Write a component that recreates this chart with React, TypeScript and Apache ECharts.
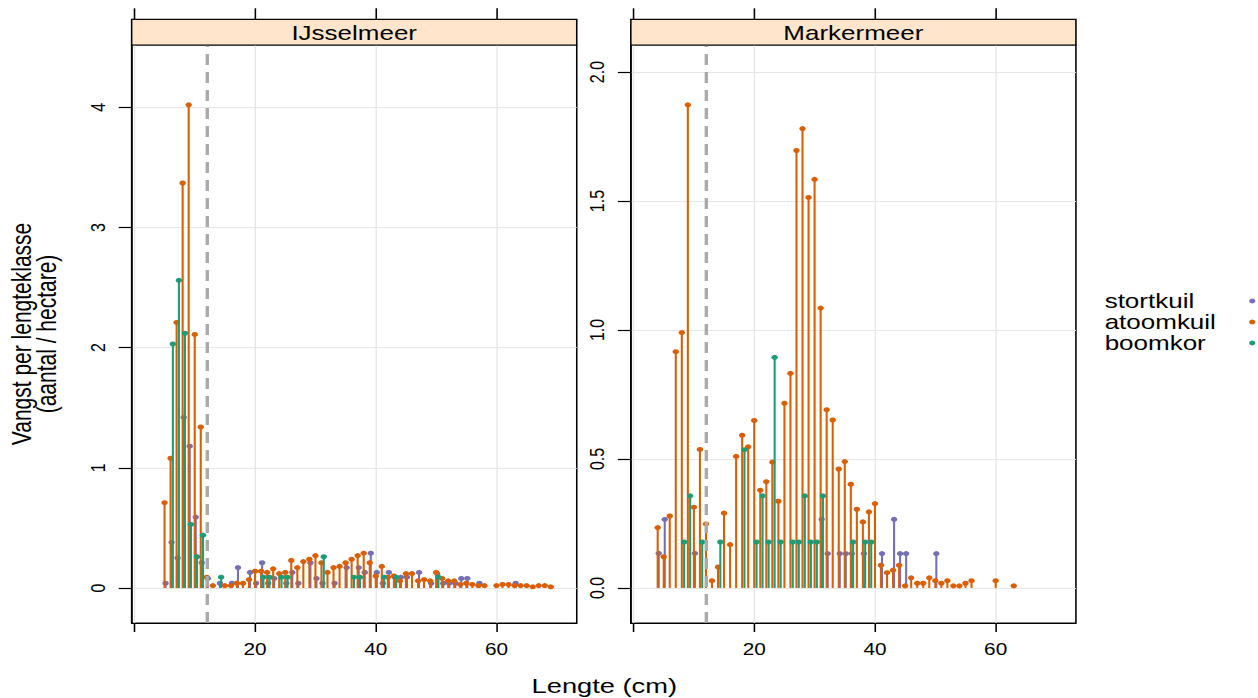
import React, { useEffect, useRef } from "react";
import * as echarts from "echarts";

// ---------- data ----------
const panels = ["IJsselmeer", "Markermeer"];
const seriesNames = ["stortkuil", "atoomkuil", "boomkor"];
const seriesColors = ["#7570B3", "#D95F02", "#1B9E77"];
const seriesOffsets = [0.17, 0, 0.38];

// IJsselmeer
const ijStortLen = [5, 6, 7, 8, 9, 10, 11, 12, 14, 16, 17, 19, 20, 21, 22, 23, 25, 26, 27, 29, 30, 31, 33, 35, 37, 38, 39, 40, 41, 42, 43, 44, 45, 47, 49, 50, 51, 52, 53, 54, 55, 57, 63];
const ijStortVal = [0.04, 0.38, 0.25, 1.42, 1.18, 0.59, 0.21, 0.08, 0.04, 0.04, 0.17, 0.13, 0.04, 0.21, 0.04, 0.08, 0.04, 0.13, 0.04, 0.21, 0.08, 0.04, 0.04, 0.17, 0.17, 0.13, 0.29, 0.13, 0.04, 0.13, 0.09, 0.09, 0.09, 0.13, 0.04, 0.12, 0.04, 0.04, 0.04, 0.08, 0.08, 0.04, 0.04];
const ijAtoomLen = [5, 6, 7, 8, 9, 10, 11, 12, 13, 15, 16, 17, 18, 19, 20, 21, 22, 23, 24, 25, 26, 27, 28, 29, 30, 31, 32, 33, 34, 35, 36, 37, 38, 39, 40, 41, 42, 43, 44, 45, 46, 47, 48, 49, 50, 51, 52, 53, 54, 55, 56, 57, 58, 60, 61, 62, 63, 64, 65, 66, 67, 68, 69];
const ijAtoomVal = [0.71, 1.08, 2.21, 3.37, 4.02, 2.11, 1.34, 0.09, 0.02, 0.02, 0.02, 0.04, 0.04, 0.07, 0.14, 0.14, 0.13, 0.16, 0.12, 0.13, 0.23, 0.17, 0.22, 0.24, 0.27, 0.21, 0.13, 0.17, 0.18, 0.21, 0.24, 0.27, 0.29, 0.21, 0.10, 0.18, 0.09, 0.10, 0.06, 0.12, 0.12, 0.06, 0.07, 0.06, 0.13, 0.08, 0.06, 0.06, 0.03, 0.04, 0.03, 0.02, 0.02, 0.02, 0.03, 0.03, 0.02, 0.02, 0.02, 0.01, 0.02, 0.02, 0.01];
const ijBoomLen = [6, 7, 8, 9, 10, 11, 14, 21, 22, 24, 25, 31, 36, 37, 41, 43, 50];
const ijBoomVal = [2.03, 2.56, 2.12, 0.53, 0.26, 0.44, 0.09, 0.09, 0.09, 0.09, 0.09, 0.26, 0.09, 0.09, 0.09, 0.09, 0.09];

// Markermeer
const mmStortLen = [4, 5, 10, 31, 32, 34, 35, 36, 38, 41, 43, 44, 45, 50];
const mmStortVal = [0.134, 0.266, 0.134, 0.266, 0.133, 0.133, 0.133, 0.133, 0.133, 0.133, 0.266, 0.133, 0.133, 0.133];
const mmAtoomLen = [4, 5, 6, 7, 8, 9, 10, 11, 12, 13, 14, 15, 16, 17, 18, 19, 20, 21, 22, 23, 24, 25, 26, 27, 28, 29, 30, 31, 32, 33, 34, 35, 36, 37, 38, 39, 40, 41, 42, 43, 44, 45, 46, 47, 48, 49, 50, 51, 52, 53, 54, 55, 56, 60, 63];
const mmAtoomVal = [0.234, 0.121, 0.279, 0.916, 0.99, 1.873, 0.313, 0.537, 0.248, 0.028, 0.081, 0.29, 0.168, 0.51, 0.592, 0.547, 0.649, 0.379, 0.412, 0.488, 0.336, 0.716, 0.832, 1.696, 1.781, 1.514, 1.584, 1.085, 0.691, 0.651, 0.461, 0.49, 0.402, 0.305, 0.256, 0.295, 0.327, 0.088, 0.059, 0.069, 0.088, 0.008, 0.039, 0.018, 0.018, 0.039, 0.028, 0.018, 0.028, 0.008, 0.008, 0.018, 0.028, 0.028, 0.008];
const mmBoomLen = [8, 9, 11, 14, 18, 20, 21, 22, 23, 24, 26, 27, 28, 29, 30, 31, 36, 38, 39];
const mmBoomVal = [0.178, 0.357, 0.178, 0.178, 0.536, 0.178, 0.357, 0.178, 0.894, 0.178, 0.178, 0.178, 0.357, 0.178, 0.178, 0.357, 0.178, 0.178, 0.178];

const xTicks = [0, 20, 40, 60];
const xLabels = [20, 40, 60];
const yTicksLeft = [0, 1, 2, 3, 4];
const yTicksRight = [0, 0.5, 1, 1.5, 2];
const sizeCutoff = 12;

const xLabel = "Lengte (cm)";
const yLabel1 = "Vangst per lengteklasse";
const yLabel2 = "(aantal / hectare)";

// ---------- layout ----------
const W = 968;
const H = 698;
const STRETCH = 1258 / W;
const FONT = "'Liberation Sans', Arial, sans-serif";
const gridTop = 45;
const gridH = 578;
const gridW = 342.5;
const gridLefts = [101.3, 485.4];
const stripTop = 19.3;
const stripH = 25.7;

function lollipop(name: string, color: string, offset: number, lens: number[], vals: number[], axisIdx: number, withCut: boolean) {
  const s: any = {
    type: "custom",
    name,
    xAxisIndex: axisIdx,
    yAxisIndex: axisIdx,
    data: lens.map((l, i) => [l, vals[i]]),
    encode: { x: 0, y: 1 },
    clip: false,
    renderItem: (params: any, api: any) => {
      const x = api.value(0) + offset;
      const v = api.value(1);
      const p0 = api.coord([x, 0]);
      const p1 = api.coord([x, v]);
      return {
        type: "group",
        children: [
          { type: "line", shape: { x1: p0[0], y1: p0[1], x2: p1[0], y2: p1[1] }, style: { stroke: color, lineWidth: 1.6 } },
          { type: "circle", shape: { cx: p1[0], cy: p1[1], r: 2.5 }, style: { fill: color } },
        ],
      };
    },
  };
  if (withCut) {
    s.markLine = {
      silent: true,
      symbol: "none",
      label: { show: false },
      lineStyle: { color: "#AAAAAA", width: 2.6, type: [11, 7] },
      data: [{ xAxis: sizeCutoff }],
    };
  }
  return s;
}

export default function App() {
  const ref = useRef<HTMLDivElement>(null);
  useEffect(() => {
    if (!ref.current) return;
    const chart = echarts.init(ref.current, undefined, { renderer: "svg" });

    const grids = gridLefts.map((l) => ({
      left: l,
      top: gridTop,
      width: gridW,
      height: gridH,
      show: true,
      borderColor: "#000",
      borderWidth: 1.2,
      containLabel: false,
    }));

    const bottomX = [0, 1].map((g) => ({
      type: "value",
      gridIndex: g,
      position: "bottom",
      min: -0.45,
      max: 73.3,
      axisLine: { show: true, onZero: false, lineStyle: { color: "#000", width: 1.2 } },
      axisTick: { show: true, length: 9, customValues: xTicks, lineStyle: { color: "#000", width: 1.2 } },
      axisLabel: { show: true, customValues: xLabels, margin: 18, color: "#000", fontSize: 16, fontFamily: FONT },
      splitLine: { show: true, lineStyle: { color: "#E6E6E6", width: 1 } },
    }));
    const topX = [0, 1].map((g) => ({
      type: "value",
      gridIndex: g,
      position: "top",
      offset: gridTop - stripTop,
      min: -0.45,
      max: 73.3,
      axisLine: { show: false, onZero: false },
      axisTick: { show: true, length: 11, customValues: xTicks, lineStyle: { color: "#000", width: 1.2 } },
      axisLabel: { show: false },
      splitLine: { show: false },
    }));

    const yAxes = [
      { min: -0.291, max: 4.518, ticks: yTicksLeft, fmt: (v: number) => String(v) },
      { min: -0.136, max: 2.105, ticks: yTicksRight, fmt: (v: number) => v.toFixed(1) },
    ].map((a, g) => ({
      type: "value",
      gridIndex: g,
      position: "left",
      min: a.min,
      max: a.max,
      axisLine: { show: true, onZero: false, lineStyle: { color: "#000", width: 1.2 } },
      axisTick: { show: true, length: 10, customValues: a.ticks, lineStyle: { color: "#000", width: 1.2 } },
      axisLabel: { show: true, customValues: a.ticks, rotate: 90, margin: 18, color: "#000", fontSize: 16, fontFamily: FONT, formatter: a.fmt },
      splitLine: { show: true, lineStyle: { color: "#E6E6E6", width: 1 } },
    }));

    const data = [
      [[ijStortLen, ijStortVal], [ijAtoomLen, ijAtoomVal], [ijBoomLen, ijBoomVal]],
      [[mmStortLen, mmStortVal], [mmAtoomLen, mmAtoomVal], [mmBoomLen, mmBoomVal]],
    ];
    const series: any[] = [];
    data.forEach((panel, g) => {
      panel.forEach(([lens, vals], k) => {
        series.push(lollipop(seriesNames[k], seriesColors[k], seriesOffsets[k], lens, vals, g, k === 2));
      });
    });

    const graphic: any[] = [];
    panels.forEach((p, g) => {
      graphic.push({
        type: "rect",
        shape: { x: gridLefts[g], y: stripTop, width: gridW, height: stripH },
        style: { fill: "#FFE5CC", stroke: "#000", lineWidth: 1.2 },
        z: 10,
      });
      graphic.push({
        type: "text",
        x: gridLefts[g] + gridW / 2,
        y: stripTop + stripH / 2 + 1,
        style: { text: p, fill: "#000", font: `20px ${FONT}`, textAlign: "center", textVerticalAlign: "middle" },
        z: 11,
      });
    });
    seriesNames.forEach((n, k) => {
      const yy = 301 + k * 21;
      graphic.push({
        type: "text",
        x: 850,
        y: yy,
        style: { text: n, fill: "#000", font: `20px ${FONT}`, textAlign: "left", textVerticalAlign: "middle" },
      });
      graphic.push({
        type: "circle",
        shape: { cx: 963.6, cy: yy, r: 2.4 },
        style: { fill: seriesColors[k] },
      });
    });
    graphic.push({
      type: "text",
      x: 465,
      y: 686,
      style: { text: xLabel, fill: "#000", font: `21px ${FONT}`, textAlign: "center", textVerticalAlign: "middle" },
    });
    graphic.push({
      type: "text",
      x: 16.3,
      y: 334,
      rotation: Math.PI / 2,
      style: { text: yLabel1, fill: "#000", font: `21px ${FONT}`, textAlign: "center", textVerticalAlign: "middle" },
    });
    graphic.push({
      type: "text",
      x: 35.5,
      y: 334,
      rotation: Math.PI / 2,
      style: { text: yLabel2, fill: "#000", font: `21px ${FONT}`, textAlign: "center", textVerticalAlign: "middle" },
    });

    chart.setOption({
      animation: false,
      backgroundColor: "#fff",
      textStyle: { fontFamily: FONT },
      grid: grids,
      xAxis: [...bottomX, ...topX],
      yAxis: yAxes,
      series,
      graphic,
    });
    return () => chart.dispose();
  }, []);

  return (
    <div style={{ position: "fixed", left: 0, top: 0, width: 1258, height: H, overflow: "hidden", background: "#fff" }}>
      <div
        ref={ref}
        style={{ width: W, height: H, transform: `scaleX(${STRETCH})`, transformOrigin: "0 0" }}
      />
    </div>
  );
}
